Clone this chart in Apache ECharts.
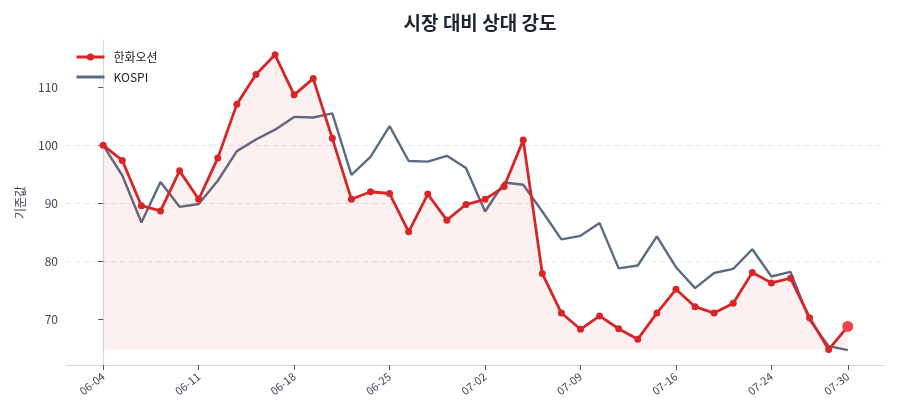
<!DOCTYPE html>
<html>
<head>
<meta charset="utf-8">
<script src="https://cdn.jsdelivr.net/npm/echarts@6/dist/echarts.min.js"></script>
<style>
  html, body { margin: 0; padding: 0; background: #fff; }
  #chart { width: 900px; height: 420px; }
</style>
</head>
<body>
<div id="chart"></div>
<script>
// 거래일 (x축)
var dates = [
    '06-04', '06-05', '06-06', '06-09', '06-10', '06-11', '06-12', '06-13', '06-16', '06-17',
    '06-18', '06-19', '06-20', '06-23', '06-24', '06-25', '06-26', '06-27', '06-30', '07-01',
    '07-02', '07-03', '07-04', '07-07', '07-08', '07-09', '07-10', '07-11', '07-14', '07-15',
    '07-16', '07-18', '07-21', '07-22', '07-23', '07-24', '07-25', '07-28', '07-29', '07-30'
];
// 기준값 = 100
var hanwha = [
    100.0, 97.4, 89.6, 88.7, 95.6, 90.7, 97.8, 107.1, 112.2, 115.6,
    108.7, 111.5, 101.2, 90.7, 92.0, 91.7, 85.1, 91.6, 87.1, 89.8,
    90.7, 92.9, 100.9, 77.9, 71.1, 68.3, 70.6, 68.4, 66.6, 71.1,
    75.2, 72.2, 71.1, 72.8, 78.1, 76.3, 77.1, 70.3, 64.8, 68.8
];
var kospi = [
    100.0, 94.8, 86.7, 93.7, 89.4, 89.9, 93.9, 99.0, 101.0, 102.7,
    104.9, 104.8, 105.5, 94.9, 98.0, 103.3, 97.3, 97.2, 98.2, 96.1,
    88.6, 93.6, 93.2, 88.6, 83.8, 84.4, 86.6, 78.8, 79.3, 84.3,
    79.0, 75.4, 78.0, 78.7, 82.1, 77.4, 78.2, 69.9, 65.4, 64.7
];
var xTicks = [0, 5, 10, 15, 20, 25, 30, 35, 39];
var yTicks = [70, 80, 90, 100, 110];

var RED = '#d62728';
var GRAY = '#5c6b82';

var chart = echarts.init(document.getElementById('chart'));

var hanwhaData = hanwha.map(function (v, i) { return [i, v]; });
var kospiData = kospi.map(function (v, i) { return [i, v]; });
// 마지막 값 강조
var last = hanwhaData.length - 1;
hanwhaData[last] = {
    value: hanwhaData[last],
    symbolSize: 11,
    itemStyle: { color: '#ef4444' }
};
var fillBase = Math.min.apply(null, hanwha);

var option = {
    animation: false,
    backgroundColor: '#fff',
    textStyle: { fontFamily: '"Noto Sans CJK KR", "Noto Sans", sans-serif' },
    title: {
        text: '시장 대비 상대 강도',
        left: 475,
        textAlign: 'center',
        top: 8,
        textStyle: { fontSize: 19, fontWeight: 'bold', color: '#1e2430' }
    },
    legend: {
        left: 70,
        top: 46,
        orient: 'vertical',
        itemWidth: 28,
        itemHeight: 9,
        itemGap: 8,
        textStyle: { fontSize: 12, color: '#222', padding: [0, 0, 0, 4] },
        data: [
            { name: '한화오션', lineStyle: { width: 3 } },
            { name: 'KOSPI', itemStyle: { opacity: 0 }, lineStyle: { width: 3 } }
        ]
    },
    grid: { left: 66, right: 15, top: 40, bottom: 55 },
    xAxis: {
        type: 'value',
        min: -1.95,
        max: 40.95,
        axisLine: { show: true, lineStyle: { color: '#d5d9e0', width: 1.2 } },
        axisTick: {
            show: true,
            customValues: xTicks,
            length: 5,
            lineStyle: { color: '#4a5568' }
        },
        axisLabel: {
            customValues: xTicks,
            rotate: 38,
            margin: 10,
            fontSize: 11,
            color: '#3c4454',
            formatter: function (v) { return dates[Math.round(v)]; }
        },
        splitLine: { show: false }
    },
    yAxis: {
        type: 'value',
        min: 62.15,
        max: 118.15,
        name: '기준값',
        nameLocation: 'middle',
        nameGap: 40,
        nameTextStyle: { fontSize: 12, color: '#3c4454' },
        axisLine: { show: true, lineStyle: { color: '#d5d9e0', width: 1.2 } },
        axisTick: {
            show: true,
            customValues: yTicks,
            length: 5,
            lineStyle: { color: '#4a5568' }
        },
        axisLabel: {
            customValues: yTicks,
            margin: 8,
            fontSize: 12,
            color: '#3c4454'
        },
        splitLine: {
            show: true,
            showMinLine: false,
            showMaxLine: false,
            lineStyle: { color: '#e6e8ec', type: [5, 4], width: 1 }
        }
    },
    series: [
        {
            name: 'KOSPI',
            type: 'line',
            data: kospiData,
            showSymbol: false,
            symbol: 'none',
            z: 2,
            lineStyle: { color: GRAY, width: 2.4 },
            itemStyle: { color: GRAY }
        },
        {
            name: '한화오션',
            type: 'line',
            data: hanwhaData,
            symbol: 'circle',
            symbolSize: 7,
            z: 3,
            lineStyle: { color: RED, width: 2.8 },
            itemStyle: { color: RED },
            areaStyle: { color: 'rgba(214, 39, 40, 0.1)', origin: fillBase }
        }
    ]
};
chart.setOption(option);
</script>
</body>
</html>
